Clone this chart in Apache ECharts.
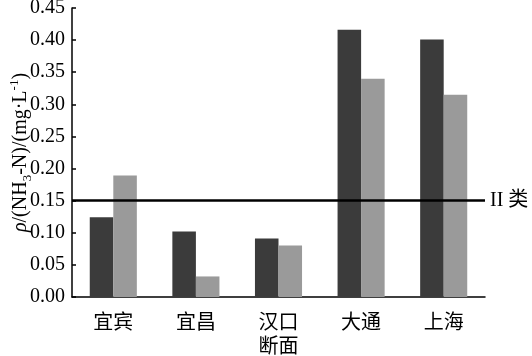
<!DOCTYPE html>
<html><head><meta charset="utf-8">
<script src="https://cdn.jsdelivr.net/npm/echarts@6/dist/echarts.min.js"></script>
<style>html,body{margin:0;padding:0;background:#fff}#c{width:532px;height:356px}</style>
</head><body><div id="c"></div>
<script>
const categories = ['宜宾', '宜昌', '汉口', '大通', '上海'];
const seriesDark = [0.124, 0.102, 0.091, 0.416, 0.401];
const seriesLight = [0.189, 0.032, 0.080, 0.340, 0.315];
const thresholdValue = 0.15;
const thresholdLabel = 'II 类';
const yTicks = { min: 0, max: 0.45, interval: 0.05 };

const FONT = '"Liberation Serif", "Noto Sans CJK SC", serif';
const chart = echarts.init(document.getElementById('c'), null, { renderer: 'canvas' });
chart.setOption({
  animation: false,
  backgroundColor: '#fff',
  grid: { left: 72, right: 47, top: 8, bottom: 59, containLabel: false, outerBoundsMode: 'none' },
  xAxis: {
    type: 'category',
    data: categories,
    name: '断面',
    nameLocation: 'middle',
    nameGap: 41,
    nameMoveOverlap: false,
    nameTextStyle: { color: '#000', fontSize: 20, fontFamily: FONT },
    axisLine: { lineStyle: { color: '#000', width: 1.5 } },
    axisTick: { inside: true, length: 5, lineStyle: { color: '#000', width: 1.5 } },
    axisLabel: { color: '#000', fontSize: 20, fontFamily: FONT, margin: 17 },
    splitLine: { show: false }
  },
  yAxis: {
    type: 'value',
    min: yTicks.min, max: yTicks.max, interval: yTicks.interval,
    name: '{i|ρ}/(NH{sub|3}-N)/(mg·L{sup|-1})',
    nameLocation: 'middle',
    nameRotate: 90,
    nameGap: 38,
    nameMoveOverlap: false,
    nameTextStyle: {
      color: '#000', fontSize: 20, fontFamily: FONT, lineHeight: 26,
      rich: {
        i: { fontStyle: 'italic', fontSize: 20, fontFamily: FONT, color: '#000' },
        sub: { fontSize: 13, fontFamily: FONT, color: '#000', verticalAlign: 'bottom', lineHeight: 26 },
        sup: { fontSize: 13, fontFamily: FONT, color: '#000', verticalAlign: 'top', lineHeight: 26 }
      }
    },
    axisLine: { show: true, lineStyle: { color: '#000', width: 1.5 } },
    axisTick: { show: true, inside: true, length: 4, lineStyle: { color: '#000', width: 1.5 } },
    axisLabel: { color: '#000', fontSize: 20, fontFamily: FONT, margin: 7, formatter: v => v.toFixed(2) },
    splitLine: { show: false }
  },
  series: [
    {
      type: 'bar', data: seriesDark, barGap: '0%', barCategoryGap: '43%',
      itemStyle: { color: '#3b3b3b' },
      markLine: {
        silent: true,
        symbol: ['none', 'none'],
        lineStyle: { color: '#000', width: 2.5, type: 'solid' },
        label: { show: true, position: 'end', distance: 5, formatter: thresholdLabel, color: '#000', fontSize: 20, fontFamily: FONT },
        data: [{ yAxis: thresholdValue }]
      }
    },
    {
      type: 'bar', data: seriesLight,
      itemStyle: { color: '#9a9a9a' }
    }
  ]
});
</script></body></html>
